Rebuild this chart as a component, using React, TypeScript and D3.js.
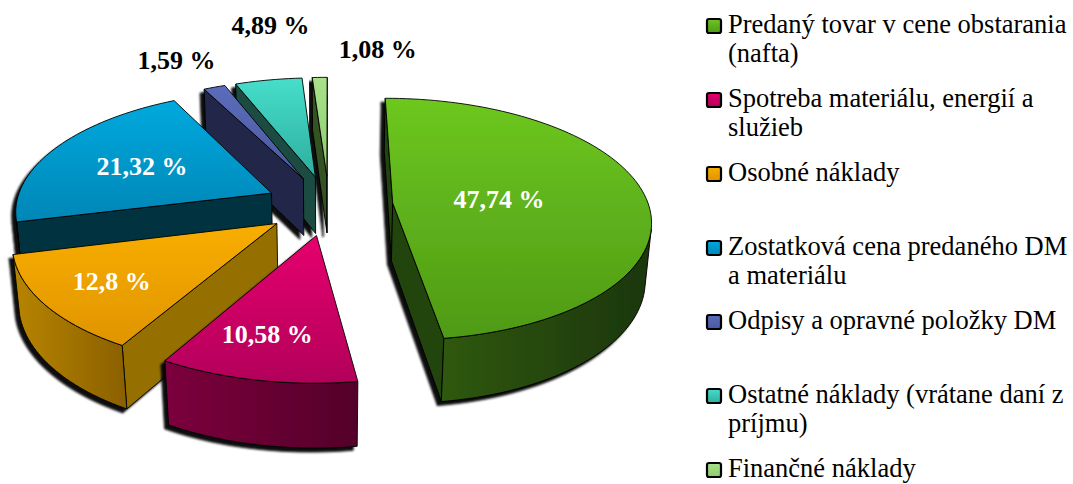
import React, { useEffect } from "react"
import * as d3 from "d3"

// chart data
const categories = [
  ["Predaný tovar v cene obstarania", "(nafta)"],
  ["Spotreba materiálu, energií a", "služieb"],
  ["Osobné náklady"],
  ["Zostatková cena predaného DM", "a materiálu"],
  ["Odpisy a opravné položky DM"],
  ["Ostatné náklady (vrátane daní z", "príjmu)"],
  ["Finančné náklady"],
]
const values = [47.74, 10.58, 12.8, 21.32, 1.59, 4.89, 1.08]

// colours
const topLight = ["#6DC720", "#E6006E", "#F8AE00", "#00A9DE", "#5B6CBA", "#46DECA", "#A8E28A"]
const topDark = ["#4F9A16", "#B2005A", "#E09400", "#0086B6", "#4A5AA0", "#2EAE9E", "#8CCB6C"]
const wallLight = ["#2F5812", "#7C003C", "#B88400", "#003C50", "#262F52", "#1E564C", "#40602A"]
const wallDark = ["#1C3608", "#54002A", "#8A6000", "#002C3A", "#1C2240", "#163E36", "#2C4418"]
const sideColor = ["#24440C", "#5E002E", "#957000", "#00323F", "#20284A", "#1A4C43", "#365224"]

const W = 1073
const H = 484

// projection setup
const cx = 329
const cy0 = 263
const S = 251
const D = 6.67
const phi = Math.asin(0.496)
const depth = 0.26
const explode = 0.25
const cosP = Math.cos(phi)
const sinP = Math.sin(phi)
const cam = [0, D * sinP, D * cosP]

type P3 = [number, number, number]

const project = (p: P3): [number, number] => {
  const [x, y, z] = p
  const up = y * cosP - z * sinP
  const tw = y * sinP + z * cosP
  const k = D / (D - tw)
  return [cx + S * x * k, cy0 - S * up * k]
}

const visible = (n: P3, p: P3) =>
  n[0] * (cam[0] - p[0]) + n[1] * (cam[1] - p[1]) + n[2] * (cam[2] - p[2]) > 0

const fmt = (v: number) => String(v).replace(".", ",") + " %"

const line = d3.line()

export default function App() {
  useEffect(() => {
    document.body.style.margin = "0"
  }, [])

  const arcs = d3.pie<number>().sort(null).value((d) => d)(values)

  const slices = arcs.map((a, i) => {
    const a0 = a.startAngle
    const a1 = a.endAngle
    const mid = (a0 + a1) / 2
    const ox = explode * Math.sin(mid)
    const oz = -explode * Math.cos(mid)
    const pt = (r: number, t: number, y: number): P3 => [ox + r * Math.sin(t), y, oz - r * Math.cos(t)]

    const steps = Math.max(2, Math.ceil(((a1 - a0) / (2 * Math.PI)) * 200))
    const ts = d3.range(steps + 1).map((k) => a0 + ((a1 - a0) * k) / steps)

    const faces: { d: string; kind: string }[] = []

    // radial walls
    const apexT = pt(0, 0, depth)
    const apexB = pt(0, 0, 0)
    const walls: [number, P3][] = [
      [a0, [-Math.cos(a0), 0, -Math.sin(a0)]],
      [a1, [Math.cos(a1), 0, Math.sin(a1)]],
    ]
    walls.forEach(([t, n]) => {
      const q = [apexT, pt(1, t, depth), pt(1, t, 0), apexB].map(project)
      if (visible(n, pt(0.5, t, depth / 2))) faces.push({ d: line(q as any) + "Z", kind: "side" })
    })

    // outer wall: contiguous visible runs
    let run: number[] = []
    const runs: number[][] = []
    for (let k = 0; k < steps; k++) {
      const tm = (ts[k] + ts[k + 1]) / 2
      const n: P3 = [Math.sin(tm), 0, -Math.cos(tm)]
      if (visible(n, pt(1, tm, depth / 2))) {
        if (run.length === 0) run.push(k)
        run.push(k + 1)
      } else if (run.length) {
        runs.push(run)
        run = []
      }
    }
    if (run.length) runs.push(run)
    runs.forEach((r) => {
      const topPts = r.map((k) => project(pt(1, ts[k], depth)))
      const botPts = r.map((k) => project(pt(1, ts[k], 0))).reverse()
      faces.push({ d: line([...topPts, ...botPts] as any) + "Z", kind: "outer" })
    })

    // top face
    const topPts = [project(apexT), ...ts.map((t) => project(pt(1, t, depth)))]
    faces.push({ d: line(topPts as any) + "Z", kind: "top" })

    const c = pt(0.5, mid, depth / 2)
    const dist = Math.hypot(cam[0] - c[0], cam[1] - c[1], cam[2] - c[2])

    return { i, mid, faces, dist, pt }
  })

  const order = [...slices].sort((a, b) => b.dist - a.dist)

  // label placement
  const insideR: Record<number, number> = { 0: 0.42, 1: 0.72, 2: 0.73, 3: 0.57 }
  const insideDx: Record<number, number> = { 0: 0, 1: -8, 2: 0, 3: -4 }
  const outsideOffsets: Record<number, [number, number]> = { 4: [-38, -27], 5: [2, -55], 6: [58, -28] }

  const font = "Liberation Serif, Times New Roman, serif"

  return (
    <svg width={W} height={H} style={{ display: "block", background: "#fff" }}>
      <defs>
        <filter id="shadow" x="-20%" y="-20%" width="140%" height="140%">
          <feDropShadow dx={-4} dy={4} stdDeviation={1.2} floodColor="#000" floodOpacity={0.95} />
        </filter>
        {values.map((_, i) => (
          <React.Fragment key={i}>
            <linearGradient id={`top${i}`} x1="0" y1="0" x2="0" y2="1">
              <stop offset="0" stopColor={topLight[i]} />
              <stop offset="1" stopColor={topDark[i]} />
            </linearGradient>
            <linearGradient id={`wall${i}`} x1="0" y1="0" x2="1" y2="0">
              <stop offset="0" stopColor={wallLight[i]} />
              <stop offset="1" stopColor={wallDark[i]} />
            </linearGradient>
          </React.Fragment>
        ))}
      </defs>

      {order.map((s) => (
        <g key={s.i} filter="url(#shadow)">
          {s.faces.map((f, k) => (
            <path
              key={k}
              d={f.d}
              fill={f.kind === "top" ? `url(#top${s.i})` : f.kind === "outer" ? `url(#wall${s.i})` : sideColor[s.i]}
              stroke="#000"
              strokeWidth={0.9}
              strokeLinejoin="round"
            />
          ))}
        </g>
      ))}

      {slices.map((s) => {
        const v = values[s.i]
        const off = outsideOffsets[s.i]
        if (off) {
          const [x, y] = project(s.pt(1, s.mid, depth))
          return (
            <text key={s.i} x={x + off[0]} y={y + off[1] + 9} textAnchor="middle" style={{ fontFamily: font }} fontWeight="bold" fontSize={26} fill="#000">
              {fmt(v)}
            </text>
          )
        }
        const [x, y] = project(s.pt(insideR[s.i], s.mid, depth))
        return (
          <text key={s.i} x={x + insideDx[s.i]} y={y + 8} textAnchor="middle" style={{ fontFamily: font }} fontWeight="bold" fontSize={26} fill="#fff">
            {fmt(v)}
          </text>
        )
      })}

      {categories.map((lines, i) => {
        const base = 33 + i * 74
        return (
          <g key={i}>
            <rect x={707} y={base - 14} width={14} height={14} rx={2} fill={`url(#top${i})`} stroke="#000" strokeWidth={2.2} />
            {lines.map((t, j) => (
              <text key={j} x={728} y={base + j * 29} style={{ fontFamily: font }} fontSize={26.5} fill="#000">
                {t}
              </text>
            ))}
          </g>
        )
      })}
    </svg>
  )
}
